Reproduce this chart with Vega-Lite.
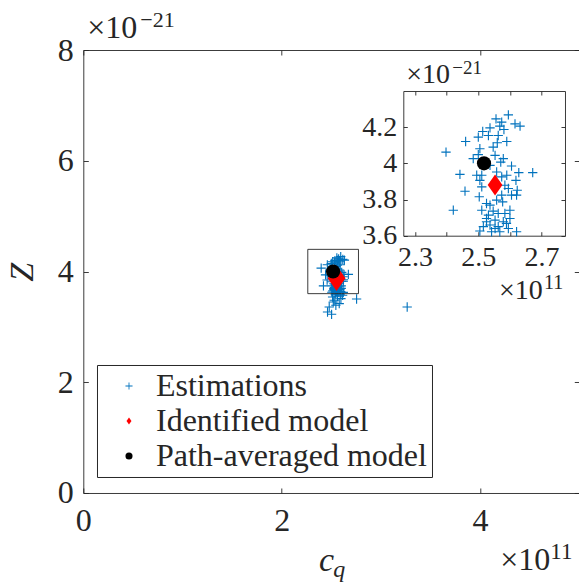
{
  "$schema": "https://vega.github.io/schema/vega-lite/v6.json",
  "width": 496,
  "height": 443,
  "autosize": "none",
  "padding": {"left": 83.3, "top": 50, "right": 0, "bottom": 91},
  "config": {
    "view": {"stroke": null},
    "font": "Liberation Serif",
    "axis": {"grid": false, "domainColor": "#262626", "tickColor": "#262626", "labelColor": "#262626", "titleColor": "#262626", "domainWidth": 0.9, "tickWidth": 0.9, "labelFont": "Liberation Serif", "labelFontSize": 32, "titleFont": "Liberation Serif", "labelFlush": false, "labelOverlap": false}
  },
  "datasets": {
    "one": [{}],
    "pts": [
      {"s": "Estimations", "cq": 2.595, "Z": 4.268},
      {"s": "Estimations", "cq": 2.556, "Z": 4.246},
      {"s": "Estimations", "cq": 2.616, "Z": 4.218},
      {"s": "Estimations", "cq": 2.632, "Z": 4.206},
      {"s": "Estimations", "cq": 2.568, "Z": 4.206},
      {"s": "Estimations", "cq": 2.537, "Z": 4.196},
      {"s": "Estimations", "cq": 2.581, "Z": 4.187},
      {"s": "Estimations", "cq": 2.514, "Z": 4.176},
      {"s": "Estimations", "cq": 2.532, "Z": 4.154},
      {"s": "Estimations", "cq": 2.5, "Z": 4.145},
      {"s": "Estimations", "cq": 2.46, "Z": 4.121},
      {"s": "Estimations", "cq": 2.59, "Z": 4.121},
      {"s": "Estimations", "cq": 2.56, "Z": 4.114},
      {"s": "Estimations", "cq": 2.547, "Z": 4.09},
      {"s": "Estimations", "cq": 2.505, "Z": 4.081},
      {"s": "Estimations", "cq": 2.398, "Z": 4.062},
      {"s": "Estimations", "cq": 2.5, "Z": 4.048},
      {"s": "Estimations", "cq": 2.553, "Z": 4.044},
      {"s": "Estimations", "cq": 2.579, "Z": 4.026},
      {"s": "Estimations", "cq": 2.571, "Z": 4.007},
      {"s": "Estimations", "cq": 2.605, "Z": 3.985},
      {"s": "Estimations", "cq": 2.628, "Z": 3.949},
      {"s": "Estimations", "cq": 2.672, "Z": 3.949},
      {"s": "Estimations", "cq": 2.442, "Z": 3.939},
      {"s": "Estimations", "cq": 2.495, "Z": 3.934},
      {"s": "Estimations", "cq": 2.511, "Z": 3.934},
      {"s": "Estimations", "cq": 2.574, "Z": 3.925},
      {"s": "Estimations", "cq": 2.619, "Z": 3.906},
      {"s": "Estimations", "cq": 2.584, "Z": 3.879},
      {"s": "Estimations", "cq": 2.511, "Z": 3.87},
      {"s": "Estimations", "cq": 2.595, "Z": 3.861},
      {"s": "Estimations", "cq": 2.458, "Z": 3.846},
      {"s": "Estimations", "cq": 2.623, "Z": 3.851},
      {"s": "Estimations", "cq": 2.503, "Z": 3.815},
      {"s": "Estimations", "cq": 2.574, "Z": 3.824},
      {"s": "Estimations", "cq": 2.621, "Z": 3.824},
      {"s": "Estimations", "cq": 2.577, "Z": 3.787},
      {"s": "Estimations", "cq": 2.526, "Z": 3.778},
      {"s": "Estimations", "cq": 2.421, "Z": 3.741},
      {"s": "Estimations", "cq": 2.547, "Z": 3.736},
      {"s": "Estimations", "cq": 2.6, "Z": 3.741},
      {"s": "Estimations", "cq": 2.563, "Z": 3.723},
      {"s": "Estimations", "cq": 2.526, "Z": 3.695},
      {"s": "Estimations", "cq": 2.553, "Z": 3.686},
      {"s": "Estimations", "cq": 2.579, "Z": 3.677},
      {"s": "Estimations", "cq": 2.6, "Z": 3.695},
      {"s": "Estimations", "cq": 2.537, "Z": 3.659},
      {"s": "Estimations", "cq": 2.563, "Z": 3.65},
      {"s": "Estimations", "cq": 2.595, "Z": 3.64},
      {"s": "Estimations", "cq": 2.505, "Z": 3.626},
      {"s": "Estimations", "cq": 2.542, "Z": 3.622},
      {"s": "Estimations", "cq": 2.621, "Z": 3.622},
      {"s": "Estimations", "cq": 2.526, "Z": 3.677},
      {"s": "Estimations", "cq": 2.537, "Z": 3.769},
      {"s": "Estimations", "cq": 2.558, "Z": 3.797},
      {"s": "Estimations", "cq": 2.511, "Z": 3.741},
      {"s": "Estimations", "cq": 2.584, "Z": 3.723},
      {"s": "Estimations", "cq": 2.532, "Z": 3.714},
      {"s": "Estimations", "cq": 2.568, "Z": 3.622},
      {"s": "Estimations", "cq": 2.589, "Z": 3.668},
      {"s": "Estimations", "cq": 2.553, "Z": 3.64},
      {"s": "Estimations", "cq": 2.516, "Z": 3.65},
      {"s": "Estimations", "cq": 2.505, "Z": 3.906},
      {"s": "Estimations", "cq": 2.553, "Z": 3.897},
      {"s": "Estimations", "cq": 2.537, "Z": 3.989},
      {"s": "Estimations", "cq": 2.563, "Z": 4.154},
      {"s": "Estimations", "cq": 2.574, "Z": 4.228},
      {"s": "Estimations", "cq": 2.605, "Z": 3.824},
      {"s": "Estimations", "cq": 2.484, "Z": 4.026},
      {"s": "Estimations", "cq": 2.558, "Z": 3.952},
      {"s": "Estimations", "cq": 2.59, "Z": 3.934},
      {"s": "Estimations", "cq": 2.479, "Z": 3.359},
      {"s": "Estimations", "cq": 2.503, "Z": 3.227},
      {"s": "Estimations", "cq": 2.58, "Z": 3.42},
      {"s": "Estimations", "cq": 2.597, "Z": 3.511},
      {"s": "Estimations", "cq": 2.529, "Z": 3.48},
      {"s": "Estimations", "cq": 2.563, "Z": 3.552},
      {"s": "Estimations", "cq": 2.513, "Z": 3.54},
      {"s": "Estimations", "cq": 2.614, "Z": 3.57},
      {"s": "Estimations", "cq": 2.546, "Z": 3.39},
      {"s": "Estimations", "cq": 2.755, "Z": 3.504},
      {"s": "Estimations", "cq": 3.265, "Z": 3.359},
      {"s": "Estimations", "cq": 2.462, "Z": 3.269},
      {"s": "Estimations", "cq": 2.54, "Z": 3.58},
      {"s": "Estimations", "cq": 2.59, "Z": 3.59},
      {"s": "Estimations", "cq": 2.52, "Z": 3.45},
      {"s": "Identified model", "cq": 2.553, "Z": 3.88},
      {"s": "Path-averaged model", "cq": 2.518, "Z": 4.0}
    ]
  },
  "layer": [
    {
      "layer": [
        {
          "data": {"name": "pts"},
          "transform": [{"filter": "datum.s == 'Estimations'"}],
          "mark": {"type": "point", "filled": true, "opacity": 1, "size": 87, "strokeWidth": 0},
          "encoding": {
            "x": {"field": "cq", "type": "quantitative", "scale": {"domain": [0, 5], "nice": false, "zero": false},
                  "axis": {"orient": "bottom", "values": [0, 2, 4], "tickSize": -5, "labelPadding": 18, "title": "c", "titleFontStyle": "italic", "titleFontWeight": "normal", "titleFontSize": 34, "titleX": 242.7, "titleY": 77.3, "titleBaseline": "alphabetic", "titleAlign": "center", "titleAngle": 0}},
            "y": {"field": "Z", "type": "quantitative", "scale": {"domain": [0, 8], "nice": false, "zero": false},
                  "axis": {"orient": "left", "values": [0, 2, 4, 6, 8], "tickSize": -5, "labelPadding": 15, "title": "Z", "titleFontStyle": "italic", "titleFontWeight": "normal", "titleFontSize": 34, "titleX": -51, "titleY": 221.7, "titleBaseline": "alphabetic", "titleAlign": "center", "titleAngle": 270}},
            "color": {"field": "s", "type": "nominal", "scale": {"domain": ["Estimations", "Identified model", "Path-averaged model"], "range": ["#0072BD", "#FF0000", "#000000"]},
                      "legend": {"orient": "none", "legendX": 13.7, "legendY": 315, "title": null, "padding": 5, "symbolOffset": 11, "labelOffset": 11, "labelLimit": 0, "labelFontSize": 32, "labelFont": "Liberation Serif", "labelColor": "#262626", "strokeColor": "#262626", "fillColor": "#ffffff", "symbolSize": 50, "rowPadding": 3, "symbolStrokeWidth": 0}},
            "shape": {"field": "s", "type": "nominal", "scale": {"domain": ["Estimations", "Identified model", "Path-averaged model"], "range": ["M-1,-0.12H1V0.12H-1ZM-0.12,-1H0.12V1H-0.12Z", "M0,-1L0.7,0L0,1L-0.7,0Z", "circle"]},
                      "legend": {"orient": "none", "legendX": 13.7, "legendY": 315, "title": null, "padding": 5, "symbolOffset": 11, "labelOffset": 11, "labelLimit": 0, "labelFontSize": 32, "labelFont": "Liberation Serif", "labelColor": "#262626", "strokeColor": "#262626", "fillColor": "#ffffff", "symbolSize": 50, "rowPadding": 3, "symbolStrokeWidth": 0}}
          }
        },
        {
          "data": {"name": "pts"},
          "transform": [{"filter": "datum.s == 'Identified model'"}],
          "mark": {"type": "point", "filled": true, "opacity": 1, "size": 650, "strokeWidth": 0},
          "encoding": {
            "x": {"field": "cq", "type": "quantitative", "axis": null},
            "y": {"field": "Z", "type": "quantitative", "axis": null},
            "color": {"field": "s", "type": "nominal"},
            "shape": {"field": "s", "type": "nominal"}
          }
        },
        {
          "data": {"name": "pts"},
          "transform": [{"filter": "datum.s == 'Path-averaged model'"}],
          "mark": {"type": "point", "filled": true, "opacity": 1, "size": 201, "strokeWidth": 0},
          "encoding": {
            "x": {"field": "cq", "type": "quantitative", "axis": null},
            "y": {"field": "Z", "type": "quantitative", "axis": null},
            "color": {"field": "s", "type": "nominal"},
            "shape": {"field": "s", "type": "nominal"}
          }
        },
        {
          "data": {"name": "one"},
          "mark": {"type": "rect", "filled": false, "fill": null, "stroke": "#262626", "strokeWidth": 0.9},
          "encoding": {
            "x": {"datum": 2.263, "type": "quantitative", "axis": {"orient": "top", "values": [0, 2, 4], "labels": false, "tickSize": -5, "title": null}},
            "x2": {"datum": 2.774},
            "y": {"datum": 3.6, "type": "quantitative", "axis": {"orient": "right", "values": [0, 2, 4, 6, 8], "labels": false, "tickSize": -5, "title": null}},
            "y2": {"datum": 4.4}
          }
        },
        {
          "data": {"name": "one"},
          "mark": {"type": "text", "text": "×10", "align": "left", "baseline": "alphabetic", "dx": 4, "dy": -12, "fontSize": 32, "font": "Liberation Serif", "color": "#262626"},
          "encoding": {"x": {"datum": 0, "type": "quantitative", "axis": null}, "y": {"datum": 8, "type": "quantitative", "axis": null}}
        },
        {
          "data": {"name": "one"},
          "mark": {"type": "text", "text": "−21", "align": "left", "baseline": "alphabetic", "dx": 57, "dy": -23, "fontSize": 22, "font": "Liberation Serif", "color": "#262626"},
          "encoding": {"x": {"datum": 0, "type": "quantitative", "axis": null}, "y": {"datum": 8, "type": "quantitative", "axis": null}}
        },
        {
          "data": {"name": "one"},
          "mark": {"type": "text", "text": "×10", "align": "left", "baseline": "alphabetic", "dx": -79, "dy": 77.3, "fontSize": 32, "font": "Liberation Serif", "color": "#262626"},
          "encoding": {"x": {"datum": 5, "type": "quantitative", "axis": null}, "y": {"datum": 0, "type": "quantitative", "axis": null}}
        },
        {
          "data": {"name": "one"},
          "mark": {"type": "text", "text": "11", "align": "left", "baseline": "alphabetic", "dx": -29, "dy": 66.3, "fontSize": 23, "font": "Liberation Serif", "color": "#262626"},
          "encoding": {"x": {"datum": 5, "type": "quantitative", "axis": null}, "y": {"datum": 0, "type": "quantitative", "axis": null}}
        },
        {
          "data": {"name": "one"},
          "mark": {"type": "text", "text": "q", "align": "left", "baseline": "alphabetic", "dx": 2, "dy": 84, "fontSize": 24, "fontStyle": "italic", "font": "Liberation Serif", "color": "#262626"},
          "encoding": {"x": {"datum": 2.5, "type": "quantitative", "axis": null}, "y": {"datum": 0, "type": "quantitative", "axis": null}}
        }
      ],
      "resolve": {"axis": {"x": "independent", "y": "independent"}}
    },
    {
      "layer": [
        {
          "data": {"name": "pts"},
          "transform": [{"filter": "datum.s == 'Estimations' && datum.cq >= 2.263 && datum.cq <= 2.774 && datum.Z >= 3.6 && datum.Z <= 4.4"}],
          "mark": {"type": "point", "filled": true, "opacity": 1, "size": 87, "strokeWidth": 0},
          "encoding": {
            "x": {"field": "cq", "type": "quantitative", "scale": {"domain": [2.263, 2.774], "range": [320, 481.7], "nice": false, "zero": false},
                  "axis": {"orient": "bottom", "offset": -257.3, "values": [2.3, 2.4, 2.5, 2.6, 2.7], "labelExpr": "round(datum.value*10) % 2 == 1 ? format(datum.value, '.1f') : ''", "tickSize": -4, "labelPadding": 12, "labelFontSize": 28, "title": null}},
            "y": {"field": "Z", "type": "quantitative", "scale": {"domain": [3.6, 4.4], "range": [185.7, 41], "nice": false, "zero": false},
                  "axis": {"orient": "left", "offset": -320, "values": [3.6, 3.8, 4, 4.2], "labelExpr": "format(datum.value, '.1~f')", "tickSize": -4, "labelPadding": 10.6, "labelFontSize": 28, "title": null}},
            "color": {"field": "s", "type": "nominal"},
            "shape": {"field": "s", "type": "nominal"}
          }
        },
        {
          "data": {"name": "pts"},
          "transform": [{"filter": "datum.s == 'Identified model'"}],
          "mark": {"type": "point", "filled": true, "opacity": 1, "size": 441, "strokeWidth": 0},
          "encoding": {
            "x": {"field": "cq", "type": "quantitative", "axis": null},
            "y": {"field": "Z", "type": "quantitative", "axis": null},
            "color": {"field": "s", "type": "nominal"},
            "shape": {"field": "s", "type": "nominal"}
          }
        },
        {
          "data": {"name": "pts"},
          "transform": [{"filter": "datum.s == 'Path-averaged model'"}],
          "mark": {"type": "point", "filled": true, "opacity": 1, "size": 201, "strokeWidth": 0},
          "encoding": {
            "x": {"field": "cq", "type": "quantitative", "axis": null},
            "y": {"field": "Z", "type": "quantitative", "axis": null},
            "color": {"field": "s", "type": "nominal"},
            "shape": {"field": "s", "type": "nominal"}
          }
        },
        {
          "data": {"name": "one"},
          "mark": {"type": "text", "text": "×10", "align": "left", "baseline": "alphabetic", "dx": 3, "dy": -8, "fontSize": 28, "font": "Liberation Serif", "color": "#262626"},
          "encoding": {
            "x": {"datum": 2.263, "type": "quantitative", "axis": {"orient": "top", "offset": -41, "values": [2.3, 2.4, 2.5, 2.6, 2.7], "labels": false, "tickSize": -4, "title": null}},
            "y": {"datum": 4.4, "type": "quantitative", "axis": {"orient": "right", "offset": -14.3, "values": [3.6, 3.8, 4, 4.2], "labels": false, "tickSize": -4, "title": null}}
          }
        },
        {
          "data": {"name": "one"},
          "mark": {"type": "text", "text": "−21", "align": "left", "baseline": "alphabetic", "dx": 49, "dy": -17, "fontSize": 19, "font": "Liberation Serif", "color": "#262626"},
          "encoding": {"x": {"datum": 2.263, "type": "quantitative", "axis": null}, "y": {"datum": 4.4, "type": "quantitative", "axis": null}}
        },
        {
          "data": {"name": "one"},
          "mark": {"type": "text", "text": "×10", "align": "left", "baseline": "alphabetic", "dx": -66, "dy": 63, "fontSize": 28, "font": "Liberation Serif", "color": "#262626"},
          "encoding": {"x": {"datum": 2.774, "type": "quantitative", "axis": null}, "y": {"datum": 3.6, "type": "quantitative", "axis": null}}
        },
        {
          "data": {"name": "one"},
          "mark": {"type": "text", "text": "11", "align": "left", "baseline": "alphabetic", "dx": -21, "dy": 53, "fontSize": 20, "font": "Liberation Serif", "color": "#262626"},
          "encoding": {"x": {"datum": 2.774, "type": "quantitative", "axis": null}, "y": {"datum": 3.6, "type": "quantitative", "axis": null}}
        }
      ],
      "resolve": {"axis": {"x": "independent", "y": "independent"}}
    }
  ],
  "resolve": {"scale": {"x": "independent", "y": "independent"}}
}
